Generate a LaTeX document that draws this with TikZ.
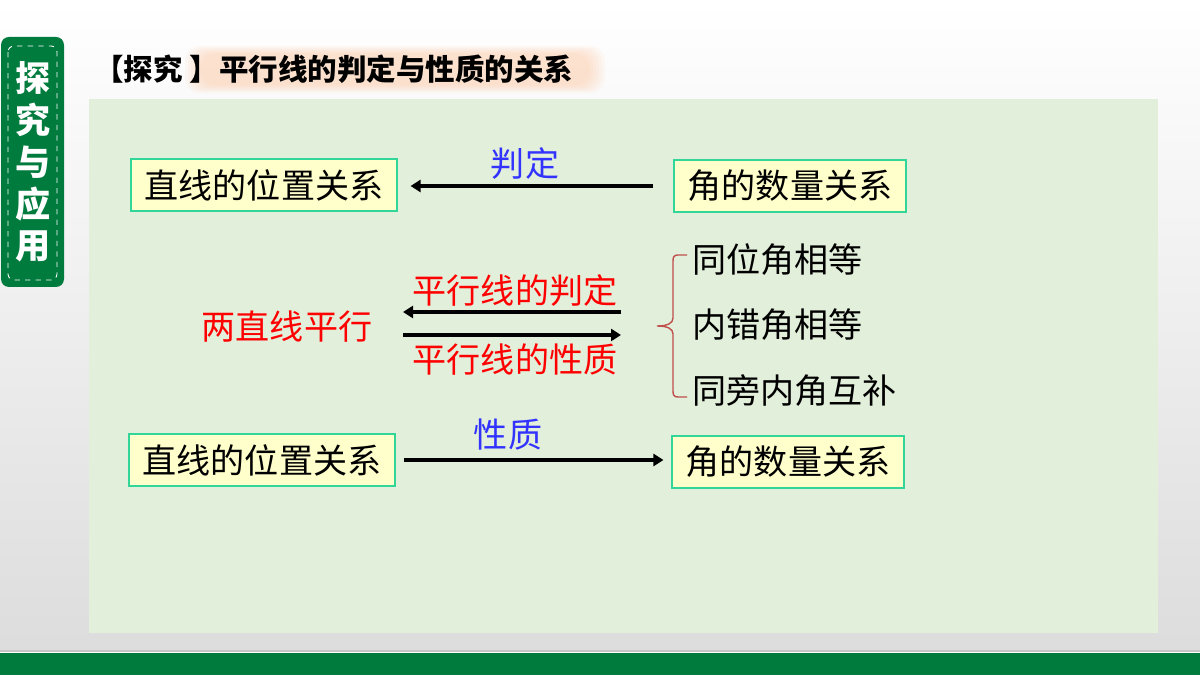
\documentclass[tikz,border=0pt]{standalone}
\usepackage{fontspec}
\setmainfont{Noto Sans CJK SC}
\usepackage{tikz}
\usetikzlibrary{arrows.meta}

\definecolor{tabgreen}{RGB}{0,123,62}
\definecolor{panelgreen}{RGB}{226,239,218}
\definecolor{boxfill}{RGB}{255,255,204}
\definecolor{boxline}{RGB}{51,214,153}
\definecolor{labelblue}{RGB}{51,51,255}
\definecolor{bracered}{RGB}{192,80,77}
\definecolor{glow}{RGB}{255,170,110}

\newcommand{\mainsize}{\fontsize{19.4pt}{22pt}\selectfont}

\begin{document}
\begin{tikzpicture}[x=0.02cm, y=-0.02cm,
  relbox/.style={draw=boxline, fill=boxfill, line width=0.9pt, inner xsep=0.27cm,
    minimum height=1.03cm, font=\mainsize},
  arr/.style={line width=2.2pt, -{Triangle[length=0.2cm, width=0.24cm]}},
  blue label/.style={text=labelblue, font=\mainsize},
  red label/.style={text=red, font=\mainsize},
  item/.style={anchor=west, font=\mainsize}]

\useasboundingbox (0,0) rectangle (1200,675);

% page
\shade[top color=white, bottom color=gray!27] (0,0) rectangle (1200,651);
\draw[gray!45, line width=1pt] (0,651) -- (1200,651);
\fill[tabgreen] (0,653) rectangle (1200,675);

% side tab
\fill[tabgreen, rounded corners=0.16cm] (1,37) rectangle (64,287);
\draw[white, dashed, line width=0.5pt, rounded corners=0.12cm] (8,46) rectangle (57,280);
\foreach \ch [count=\i] in {探,究,与,应,用}
\node[text=white, font=\fontsize{20pt}{22pt}\bfseries] (tab\i) at (33,{36+42*\i}) {\ch};

% title
\foreach \d in {0,3,...,15}
\fill[glow, opacity=0.06, rounded corners=0.3cm] ({185+\d},{46+\d/2}) rectangle ({605-\d},{93-\d/2});
\node[anchor=west, font=\fontsize{16.8pt}{18pt}\bfseries] (title) at (88,69) {【探究 】平行线的判定与性质的关系};

% panel
\fill[panelgreen] (89,99) rectangle (1158,633);

% top row
\node[relbox] (lineT) at (264,185) {直线的位置关系};
\node[relbox] (angleT) at (790,186) {角的数量关系};
\draw[arr, shorten <=0.4cm, shorten >=0.26cm] (angleT.west) -- (lineT.east |- angleT.west);
\node[blue label] (judge) at (525,164) {判定};

% middle row
\node[red label] (para) at (287,327) {两直线平行};
\coordinate (upL) at (403,312);
\coordinate (upR) at (621,312);
\coordinate (lowL) at (403,335);
\coordinate (lowR) at (621,335);
\draw[arr] (upR) -- (upL);
\draw[arr] (lowL) -- (lowR);
\node[red label] (pjudge) at (515,291) {平行线的判定};
\node[red label] (pprop) at (515,360) {平行线的性质};

\draw[bracered, line width=0.8pt] (687,255) -- (678,255) .. controls (674,255) and (673,257) .. (673,261)
  -- (673,318) .. controls (673,323) and (668,326) .. (657,326)
  .. controls (668,326) and (673,329) .. (673,334)
  -- (673,391) .. controls (673,395) and (674,397) .. (678,397) -- (687,397);

\foreach \txt/\y [count=\i] in {同位角相等/260, 内错角相等/325, 同旁内角互补/391}
\node[item] (kind\i) at (686,\y) {\txt};

% bottom row
\node[relbox] (lineB) at (262,460) {直线的位置关系};
\node[relbox] (angleB) at (788,462) {角的数量关系};
\draw[arr, shorten <=0.16cm, shorten >=0.16cm] (lineB.east) -- (angleB.west |- lineB.east);
\node[blue label] (prop) at (508,435) {性质};

\end{tikzpicture}
\end{document}
